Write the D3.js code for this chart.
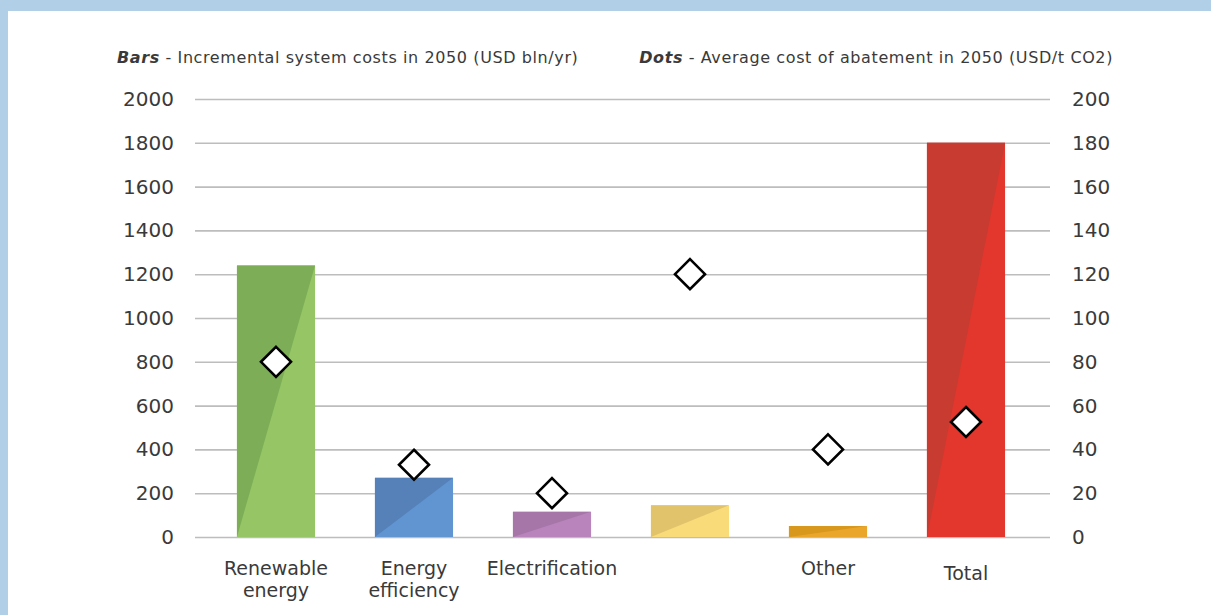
<!DOCTYPE html>
<html lang="en">
<head>
  <meta charset="UTF-8" />
  <title>Incremental system costs and abatement cost 2050</title>
  <script src="https://d3js.org/d3.v7.min.js"></script>
  <style>
    body { margin: 0; }
    svg text { font-family: "DejaVu Sans", sans-serif; fill: #3a3a3a; }
    .tick text { font-size: 20px; }
    .cat-label { font-size: 19px; text-anchor: middle; }
    .title { font-size: 16px; letter-spacing: 0.6px; }
  </style>
</head>
<body>
  <svg id="chart" width="1211" height="615"></svg>

  <script>
    const categories = ['Renewable energy', 'Energy efficiency', 'Electrification', '', 'Other', 'Total'];
    const costs = [1240, 270, 115, 145, 50, 1800];        // bars, USD bln/yr
    const abatement = [80, 33, 20, 120, 40, 52.5];        // dots, USD/t CO2
    const leftTicks = [0, 200, 400, 600, 800, 1000, 1200, 1400, 1600, 1800, 2000];
    const rightTicks = [0, 20, 40, 60, 80, 100, 120, 140, 160, 180, 200];
    const darkColors = ['#7dad56', '#5581b8', '#a676a9', '#e1c36c', '#d8981d', '#c73b30'];
    const lightColors = ['#95c565', '#6095d2', '#b984bb', '#fadb7a', '#e9a62a', '#e3362d'];

    const plotLeft = 195, plotRight = 1050, plotTop = 99, plotBottom = 537;

    const svg = d3.select("#chart");

    // frame
    svg.append("rect").attr("width", 1211).attr("height", 615).attr("fill", "#b1cfe7");
    svg.append("rect").attr("x", 8).attr("y", 11).attr("width", 1203).attr("height", 604).attr("fill", "#fff");

    const x = d3.scaleBand()
      .domain(categories.map((d, i) => i))
      .range([207, 1035])
      .paddingInner(0.434)
      .paddingOuter(0.217);

    const yL = d3.scaleLinear().domain([0, 2000]).range([plotBottom, plotTop]);
    const yR = d3.scaleLinear().domain([0, 200]).range([plotBottom, plotTop]);

    // left axis + grid
    const gL = svg.append("g")
      .attr("transform", `translate(${plotLeft},0)`)
      .call(d3.axisLeft(yL).tickValues(leftTicks).tickFormat(d3.format("d"))
        .tickSizeInner(-(plotRight - plotLeft)).tickSizeOuter(0).tickPadding(21));
    gL.select(".domain").remove();
    gL.selectAll(".tick line").attr("stroke", "#bdbdbd").attr("stroke-width", 1.6);

    const gR = svg.append("g")
      .attr("transform", `translate(${plotRight},0)`)
      .call(d3.axisRight(yR).tickValues(rightTicks).tickFormat(d3.format("d"))
        .tickSize(0).tickPadding(22));
    gR.select(".domain").remove();

    // bars: light rectangle with a darker triangle on the upper-left half
    const bars = svg.append("g").selectAll("g")
      .data(costs)
      .enter()
      .append("g");

    bars.append("rect")
      .attr("x", (d, i) => x(i))
      .attr("y", d => yL(d))
      .attr("width", x.bandwidth())
      .attr("height", d => yL(0) - yL(d))
      .attr("fill", (d, i) => lightColors[i]);

    bars.append("path")
      .attr("d", (d, i) => {
        const x0 = x(i), x1 = x(i) + x.bandwidth();
        return `M${x0},${yL(0)}L${x0},${yL(d)}L${x1},${yL(d)}Z`;
      })
      .attr("fill", (d, i) => darkColors[i]);

    // diamonds
    const r = 15;
    svg.append("g").selectAll("path")
      .data(abatement)
      .enter()
      .append("path")
      .attr("transform", (d, i) => `translate(${x(i) + x.bandwidth() / 2},${yR(d)})`)
      .attr("d", `M0,${-r}L${r},0L0,${r}L${-r},0Z`)
      .attr("fill", "#fff")
      .attr("stroke", "#000")
      .attr("stroke-width", 2.6)
      .attr("stroke-linejoin", "miter");

    // category labels
    svg.append("g").selectAll("text")
      .data(categories)
      .enter()
      .append("text")
      .attr("class", "cat-label")
      .attr("x", (d, i) => x(i) + x.bandwidth() / 2)
      .attr("y", (d, i) => d === 'Total' ? 580 : 575)
      .each(function (d) {
        const words = d.split(' ');
        const t = d3.select(this);
        words.forEach((w, k) => {
          t.append("tspan")
            .attr("x", t.attr("x"))
            .attr("dy", k === 0 ? 0 : 22)
            .text(w);
        });
      });

    // titles
    const t1 = svg.append("text").attr("class", "title").attr("x", 117).attr("y", 63);
    t1.append("tspan").style("font-weight", "bold").style("font-style", "italic").text("Bars");
    t1.append("tspan").text(" - Incremental system costs in 2050 (USD bln/yr)");

    const t2 = svg.append("text").attr("class", "title").attr("x", 1113).attr("y", 63).attr("text-anchor", "end");
    t2.append("tspan").style("font-weight", "bold").style("font-style", "italic").text("Dots");
    t2.append("tspan").text(" - Average cost of abatement in 2050 (USD/t CO2)");
  </script>
</body>
</html>
